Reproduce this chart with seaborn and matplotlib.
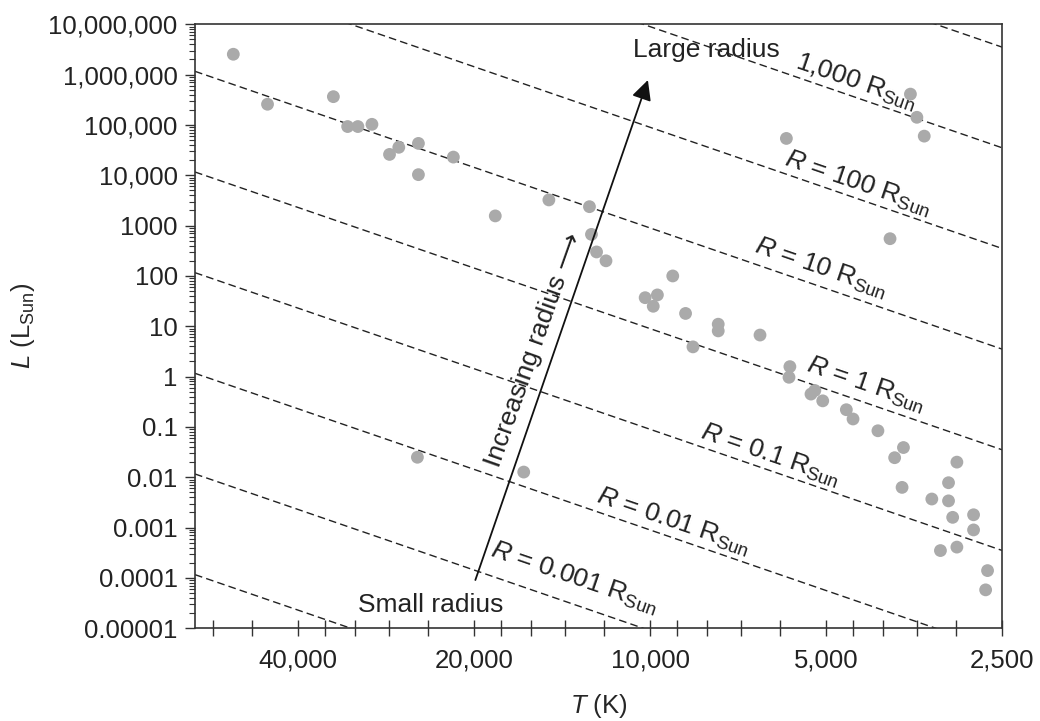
import numpy as np
import pandas as pd
import matplotlib
matplotlib.use("Agg")
import matplotlib.pyplot as plt
import seaborn as sns
from matplotlib.ticker import FixedLocator, NullFormatter, LogLocator

# star temperatures (K) and luminosities (L_sun)
T_K = [51600, 45100, 34800, 32900, 31600, 29900, 27900, 26900, 24900, 24900,
       21700, 18400, 14900, 12700, 12600, 12350, 11900, 9150, 10200, 9720,
       9880, 8700, 7650, 7650, 6490, 8450, 5850, 3590, 3500, 3400,
       3890, 5770, 5790, 5310, 5230, 5070, 4620, 4500, 4080, 3690,
       3820, 3710, 2990, 3090, 3300, 3090, 3040, 2800, 2800, 3190,
       2990, 2650, 2670, 25000, 16450]
L_sun = [2.54e6, 2.58e5, 3.65e5, 9.3e4, 9.3e4, 1.03e5, 2.6e4, 3.6e4, 4.3e4, 1.03e4,
         2.3e4, 1560, 3240, 2380, 670, 300, 200, 100, 37, 42,
         25, 18, 11, 8.1, 6.7, 3.9, 5.4e4, 4.1e5, 1.42e5, 6.0e4,
         550, 1.58, 0.97, 0.45, 0.53, 0.33, 0.22, 0.144, 0.084, 0.039,
         0.0245, 0.0063, 0.020, 0.0078, 0.0037, 0.0034, 0.0016, 0.0018, 0.0009, 0.00035,
         0.00041, 0.00014, 0.000058, 0.025, 0.0127]

# constant-radius lines (R in R_sun)
R_lines = [1e-4, 1e-3, 1e-2, 1e-1, 1, 10, 100, 1000, 10000]
T_sun = 5778

y_ticks = [1e7, 1e6, 1e5, 1e4, 1e3, 1e2, 10, 1, 0.1, 0.01, 0.001, 0.0001, 0.00001]
y_labels = ["10,000,000", "1,000,000", "100,000", "10,000", "1000", "100", "10",
            "1", "0.1", "0.01", "0.001", "0.0001", "0.00001"]
x_ticks = [40000, 20000, 10000, 5000, 2500]
x_labels = ["40,000", "20,000", "10,000", "5,000", "2,500"]
x_minor = [56000, 48000, 36000, 32000, 28000, 24000, 18000, 16000, 14000, 12000,
           9000, 8000, 7000, 6000, 4500, 4000, 3500, 3000]

sns.set_style("ticks")
plt.rcParams["font.family"] = ["Liberation Sans", "DejaVu Sans"]
plt.rcParams["mathtext.fontset"] = "custom"
plt.rcParams["mathtext.rm"] = "Liberation Sans"
plt.rcParams["mathtext.it"] = "Liberation Sans:italic"
plt.rcParams["text.color"] = "#222222"

fig = plt.figure(figsize=(10.4, 7.21), dpi=100)
ax = fig.add_axes([0.1875, 0.1286, 0.7763, 0.8377])

# dashed radius lines: L = R^2 (T/T_sun)^4
T_grid = np.array([60000, 2500])
for R in R_lines:
    ax.plot(T_grid, R**2 * (T_grid / T_sun)**4, color="#222222", lw=1.0,
            dashes=(5.5, 3), zorder=1)

df = pd.DataFrame({"T": T_K, "L": L_sun})
sns.scatterplot(data=df, x="T", y="L", ax=ax, color="#aaaaaa", s=85,
                edgecolor="none", zorder=3)

ax.set_xscale("log")
ax.set_yscale("log")
ax.set_xlim(60000, 2500)
ax.set_ylim(1e-5, 1e7)

ax.xaxis.set_major_locator(FixedLocator(x_ticks))
ax.set_xticklabels(x_labels)
ax.xaxis.set_minor_locator(FixedLocator(x_minor))
ax.xaxis.set_minor_formatter(NullFormatter())
ax.yaxis.set_major_locator(FixedLocator(y_ticks))
ax.set_yticklabels(y_labels)
ax.yaxis.set_minor_locator(LogLocator(base=10, subs=np.arange(2, 10), numticks=100))
ax.yaxis.set_minor_formatter(NullFormatter())

ax.tick_params(axis="x", which="both", direction="inout", length=11.5, width=1.0,
               colors="#333333", labelsize=18.5, labelcolor="#222222", pad=9)
ax.tick_params(axis="y", which="major", direction="out", length=7, width=1.0,
               colors="#333333", labelsize=18.5, labelcolor="#222222", pad=5.5)
ax.tick_params(axis="y", which="minor", direction="out", length=4.5, width=0.8,
               colors="#333333")
for sp in ax.spines.values():
    sp.set_color("#333333")
    sp.set_linewidth(1.2)

ax.set_xlabel(r"$T$ (K)", fontsize=18.5, labelpad=14)
ax.set_ylabel(r"$L$ (L$_{\mathrm{Sun}}$)", fontsize=18.5, labelpad=8)

# big arrow from small to large radius
ax.annotate("", xy=(10090, 7.8e5), xytext=(19900, 9.1e-5),
            arrowprops=dict(arrowstyle="-|>", color="#111111", lw=1.3,
                            mutation_scale=30, shrinkA=0, shrinkB=0))

rot = -18.9
fs = 19
ax.text(8000, 3.1e6, "Large radius", fontsize=fs, ha="center", va="center")
ax.text(23700, 2.9e-5, "Small radius", fontsize=fs, ha="center", va="center")
ax.text(15800, 3.4, "Increasing radius \u27f6", fontsize=fs, ha="center",
        va="center", rotation=70.5, rotation_mode="anchor")

ax.text(4455, 7.15e5, r"1,000 R$_{\mathrm{Sun}}$", fontsize=fs, rotation=rot,
        ha="center", va="center", rotation_mode="anchor")
ax.text(4420, 7040, r"$R$ = 100 R$_{\mathrm{Sun}}$", fontsize=fs, rotation=rot,
        ha="center", va="center", rotation_mode="anchor")
ax.text(5110, 144, r"$R$ = 10 R$_{\mathrm{Sun}}$", fontsize=fs, rotation=rot,
        ha="center", va="center", rotation_mode="anchor")
ax.text(4270, 0.68, r"$R$ = 1 R$_{\mathrm{Sun}}$", fontsize=fs, rotation=rot,
        ha="center", va="center", rotation_mode="anchor")
ax.text(6220, 0.0277, r"$R$ = 0.1 R$_{\mathrm{Sun}}$", fontsize=fs, rotation=rot,
        ha="center", va="center", rotation_mode="anchor")
ax.text(9130, 1.29e-3, r"$R$ = 0.01 R$_{\mathrm{Sun}}$", fontsize=fs, rotation=rot,
        ha="center", va="center", rotation_mode="anchor")
ax.text(13500, 1.0e-4, r"$R$ = 0.001 R$_{\mathrm{Sun}}$", fontsize=fs, rotation=rot,
        ha="center", va="center", rotation_mode="anchor")

fig.savefig("out.png", dpi=100, facecolor="white")
